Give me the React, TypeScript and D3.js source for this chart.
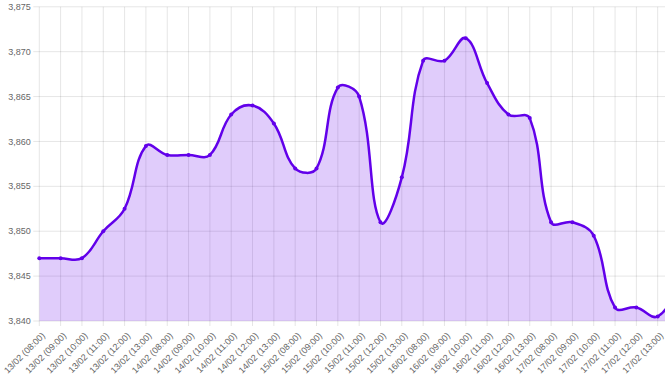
import React, { useRef, useEffect } from 'react';
import * as d3 from 'd3';

// hourly labels, five trading days
const labels = [
  '13/02 (08:00)', '13/02 (09:00)', '13/02 (10:00)', '13/02 (11:00)', '13/02 (12:00)', '13/02 (13:00)',
  '14/02 (08:00)', '14/02 (09:00)', '14/02 (10:00)', '14/02 (11:00)', '14/02 (12:00)', '14/02 (13:00)',
  '15/02 (08:00)', '15/02 (09:00)', '15/02 (10:00)', '15/02 (11:00)', '15/02 (12:00)', '15/02 (13:00)',
  '16/02 (08:00)', '16/02 (09:00)', '16/02 (10:00)', '16/02 (11:00)', '16/02 (12:00)', '16/02 (13:00)',
  '17/02 (08:00)', '17/02 (09:00)', '17/02 (10:00)', '17/02 (11:00)', '17/02 (12:00)', '17/02 (13:00)'
];

// one value per label, plus the next one which falls just past the right edge
const values = [
  3847, 3847, 3847, 3850, 3852.5, 3859.5,
  3858.5, 3858.5, 3858.5, 3863, 3864, 3862,
  3857, 3857, 3866, 3865, 3851, 3856,
  3869, 3869, 3871.5, 3866.5, 3863, 3862.6,
  3851, 3851, 3849.5, 3841.5, 3841.5, 3840.5,
  3844
];

const yTicks = [3840, 3845, 3850, 3855, 3860, 3865, 3870, 3875];

const W = 665;
const H = 378;
const LINE = '#6200ea';
const GRID = 'rgba(0,0,0,0.1)';
const FONT = '"Liberation Sans", Arial, Helvetica, sans-serif';

// chart.js style bezier (tension 0.4, control points capped to the chart area)
function splinePath(pts: [number, number][], tension: number, top: number, bottom: number) {
  const clampY = (v: number) => Math.max(top, Math.min(bottom, v));
  const cps = pts.map((p, i) => {
    const prev = pts[i - 1] || p;
    const next = pts[i + 1] || p;
    const d01 = Math.hypot(p[0] - prev[0], p[1] - prev[1]);
    const d12 = Math.hypot(next[0] - p[0], next[1] - p[1]);
    let s01 = d01 / (d01 + d12);
    let s12 = d12 / (d01 + d12);
    if (!isFinite(s01)) s01 = 0;
    if (!isFinite(s12)) s12 = 0;
    const fa = tension * s01;
    const fb = tension * s12;
    return {
      px: p[0] - fa * (next[0] - prev[0]),
      py: clampY(p[1] - fa * (next[1] - prev[1])),
      nx: p[0] + fb * (next[0] - prev[0]),
      ny: clampY(p[1] + fb * (next[1] - prev[1]))
    };
  });
  const path = d3.path();
  path.moveTo(pts[0][0], pts[0][1]);
  for (let i = 1; i < pts.length; i++) {
    path.bezierCurveTo(cps[i - 1].nx, cps[i - 1].ny, cps[i].px, cps[i].py, pts[i][0], pts[i][1]);
  }
  return path.toString();
}

const App: React.FC = () => {
  const svgRef = useRef<SVGSVGElement>(null);

  useEffect(() => {
    if (!svgRef.current) return;
    const svg = d3.select(svgRef.current);
    svg.selectAll('*').remove();

    const left = 39.3;
    const right = 657.7;
    const top = 6.8;
    const bottom = 321;

    const x = d3.scaleLinear().domain([0, labels.length - 1]).range([left, right]);
    const y = d3.scaleLinear().domain([3840, 3875]).range([bottom, top]);

    // grid
    const grid = svg.append('g');
    grid.selectAll('.vg')
      .data(labels)
      .enter()
      .append('line')
      .attr('x1', (d, i) => x(i))
      .attr('x2', (d, i) => x(i))
      .attr('y1', top)
      .attr('y2', bottom + 5)
      .attr('stroke', GRID)
      .attr('stroke-width', 1);

    grid.selectAll('.hg')
      .data(yTicks)
      .enter()
      .append('line')
      .attr('x1', left - 6)
      .attr('x2', W)
      .attr('y1', d => y(d))
      .attr('y2', d => y(d))
      .attr('stroke', GRID)
      .attr('stroke-width', 1);

    // y labels
    svg.append('g')
      .selectAll('text')
      .data(yTicks)
      .enter()
      .append('text')
      .attr('x', left - 8.5)
      .attr('y', d => y(d))
      .attr('dy', '0.35em')
      .attr('text-anchor', 'end')
      .style('font-family', FONT)
      .style('font-size', '9px')
      .style('fill', '#666')
      .text(d => d3.format(',')(d));

    // x labels
    svg.append('g')
      .selectAll('text')
      .data(labels)
      .enter()
      .append('text')
      .attr('transform', (d, i) => `translate(${x(i) + 4},${bottom + 13}) rotate(-45)`)
      .attr('dy', '0.35em')
      .attr('text-anchor', 'end')
      .style('font-family', FONT)
      .style('font-size', '9px')
      .style('fill', '#666')
      .text(d => d);

    const pts: [number, number][] = values.map((v, i) => [x(i), y(v)]);
    const linePath = splinePath(pts, 0.4, top, bottom);
    const last = pts[pts.length - 1];

    svg.append('clipPath')
      .attr('id', 'plot-clip')
      .append('rect')
      .attr('x', left)
      .attr('y', 0)
      .attr('width', W - left)
      .attr('height', bottom);

    const plot = svg.append('g').attr('clip-path', 'url(#plot-clip)');

    plot.append('path')
      .attr('d', `${linePath}L${last[0]},${bottom}L${pts[0][0]},${bottom}Z`)
      .attr('fill', 'rgba(98,0,234,0.2)');

    plot.append('path')
      .attr('d', linePath)
      .attr('fill', 'none')
      .attr('stroke', LINE)
      .attr('stroke-width', 2.5);

    svg.append('g')
      .selectAll('circle')
      .data(pts.slice(0, labels.length))
      .enter()
      .append('circle')
      .attr('cx', d => d[0])
      .attr('cy', d => d[1])
      .attr('r', 2)
      .attr('fill', LINE);
  }, []);

  return (
    <svg
      ref={svgRef}
      width={W}
      height={H}
      style={{ position: 'absolute', left: 0, top: 0, background: '#fff' }}
      viewBox={`0 0 ${W} ${H}`}
    />
  );
};

export default App;
